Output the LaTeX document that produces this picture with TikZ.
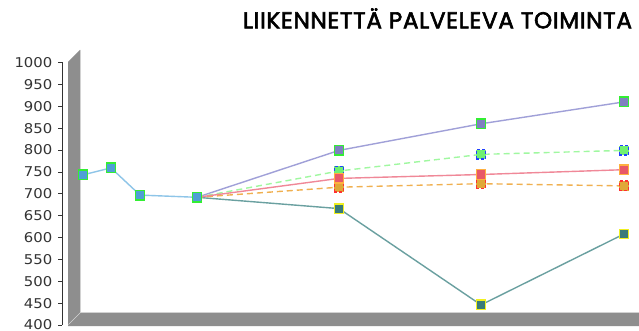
\documentclass[tikz,border=0pt]{standalone}
\usepackage{fontspec}
\setmainfont{DejaVu Sans}
\newfontfamily\titlefont[FakeBold=2.6,LetterSpace=3]{Poppins}
\usepackage{graphicx}
\definecolor{wallgrey}{HTML}{8E8E8E}
\definecolor{wallhi}{HTML}{D2D2D2}
\definecolor{axisdark}{HTML}{333333}
\definecolor{blueline}{HTML}{8EC5E8}
\definecolor{bluefill}{HTML}{4F9FD6}
\definecolor{greenedge}{HTML}{33EE33}
\definecolor{purpleline}{HTML}{A0A0D8}
\definecolor{purplefill}{HTML}{8080C0}
\definecolor{greenline}{HTML}{A0F8A0}
\definecolor{greenfill}{HTML}{70F070}
\definecolor{blueedge}{HTML}{2040FF}
\definecolor{redline}{HTML}{F08898}
\definecolor{redfill}{HTML}{E85868}
\definecolor{orangeedge}{HTML}{FFB040}
\definecolor{orangeline}{HTML}{F0B050}
\definecolor{orangefill}{HTML}{E0A838}
\definecolor{rededge}{HTML}{FF3030}
\definecolor{tealline}{HTML}{6AA0A0}
\definecolor{tealfill}{HTML}{3A7A7A}
\definecolor{yellowedge}{HTML}{F0F020}
\tikzset{
  mk/.style={draw, line width=1.4pt, minimum size=9.5pt, inner sep=0pt, rectangle},
  mkblue/.style={mk, fill=bluefill, draw=greenedge},
  mkpurple/.style={mk, fill=purplefill, draw=greenedge},
  mkgreen/.style={mk, fill=greenfill, draw=blueedge, dash pattern=on 3pt off 2pt},
  mkred/.style={mk, fill=redfill, draw=orangeedge},
  mkorange/.style={mk, fill=orangefill, draw=rededge, dash pattern=on 3pt off 2pt},
  mkteal/.style={mk, fill=tealfill, draw=yellowedge},
  ser/.style={line width=1.4pt},
  dashser/.style={line width=1.4pt, dash pattern=on 6pt off 4pt},
  ticklabel/.style={anchor=east, inner sep=0pt, text=axisdark, font=\fontsize{13.5}{14}\selectfont},
}
\begin{document}
\begin{tikzpicture}[x=1pt,y=-1pt]
\useasboundingbox (0,0) rectangle (639,331);
\fill[white] (0,0) rectangle (639,331);
% title
\node[anchor=base, inner sep=0pt] (title) at (437.5,28.3)
  {\resizebox{389pt}{20pt}{\titlefont LIIKENNETTÄ PALVELEVA TOIMINTA}};
% 3D wall and floor
\fill[wallgrey] (68,62) -- (80,50) -- (80,313) -- (68,325) -- cycle;
\fill[wallgrey] (68,325) -- (80,313) -- (639,313) -- (639,326) -- (68,326) -- cycle;
\draw[wallhi, line width=0.8pt] (80.4,50) -- (80.4,312.6) -- (639,312.6);
\draw[wallhi, line width=0.5pt] (68.5,324.5) -- (80.4,312.6);
% axis
\draw[axisdark, line width=0.9pt] (62,62.5) -- (62,325);
\foreach \v [count=\k from 0] in {1000,950,900,850,800,750,700,650,600,550,500,450,400} {
  \pgfmathsetmacro{\yy}{62.5+\k*21.875}
  \draw[axisdark, line width=0.7pt] (58,\yy) -- (62,\yy);
  \node[ticklabel] (t\v) at (52.5,\yy) {\scalebox{1.1}[1]{\v}};
}
% coordinates
\coordinate (b1) at (83,174.9);
\coordinate (b2) at (111,167.9);
\coordinate (b3) at (140,195.1);
\coordinate (b4) at (197,197.3);
\coordinate (p1) at (339,150.4);
\coordinate (p2) at (481,123.8);
\coordinate (p3) at (624,101.9);
\coordinate (g1) at (339,171);
\coordinate (g2) at (481,154.4);
\coordinate (g3) at (624,150.4);
\coordinate (r1) at (339,178.4);
\coordinate (r2) at (481,174.5);
\coordinate (r3) at (624,169.7);
\coordinate (o1) at (339,187.2);
\coordinate (o2) at (481,183.7);
\coordinate (o3) at (624,185.9);
\coordinate (c1) at (339,208.6);
\coordinate (c2) at (481,304.9);
\coordinate (c3) at (624,234);
% lines
\draw[ser, tealline] (b4) -- (c1) -- (c2) -- (c3);
\draw[ser, purpleline] (b4) -- (p1) -- (p2) -- (p3);
\draw[dashser, greenline] (b4) -- (g1) -- (g2) -- (g3);
\draw[dashser, orangeline] (b4) -- (o1) -- (o2) -- (o3);
\draw[ser, redline] (b4) -- (r1) -- (r2) -- (r3);
\draw[ser, blueline] (b1) -- (b2) -- (b3) -- (b4);
% markers
\foreach \n in {1,2,3} {
  \node[mkteal] (mc\n) at (c\n) {};
  \node[mkpurple] (mp\n) at (p\n) {};
  \node[mkgreen] (mg\n) at (g\n) {};
  \node[mkorange] (mo\n) at (o\n) {};
  \node[mkred] (mr\n) at (r\n) {};
}
\foreach \n in {1,2,3,4} {
  \node[mkblue] (mb\n) at (b\n) {};
}
\end{tikzpicture}
\end{document}
